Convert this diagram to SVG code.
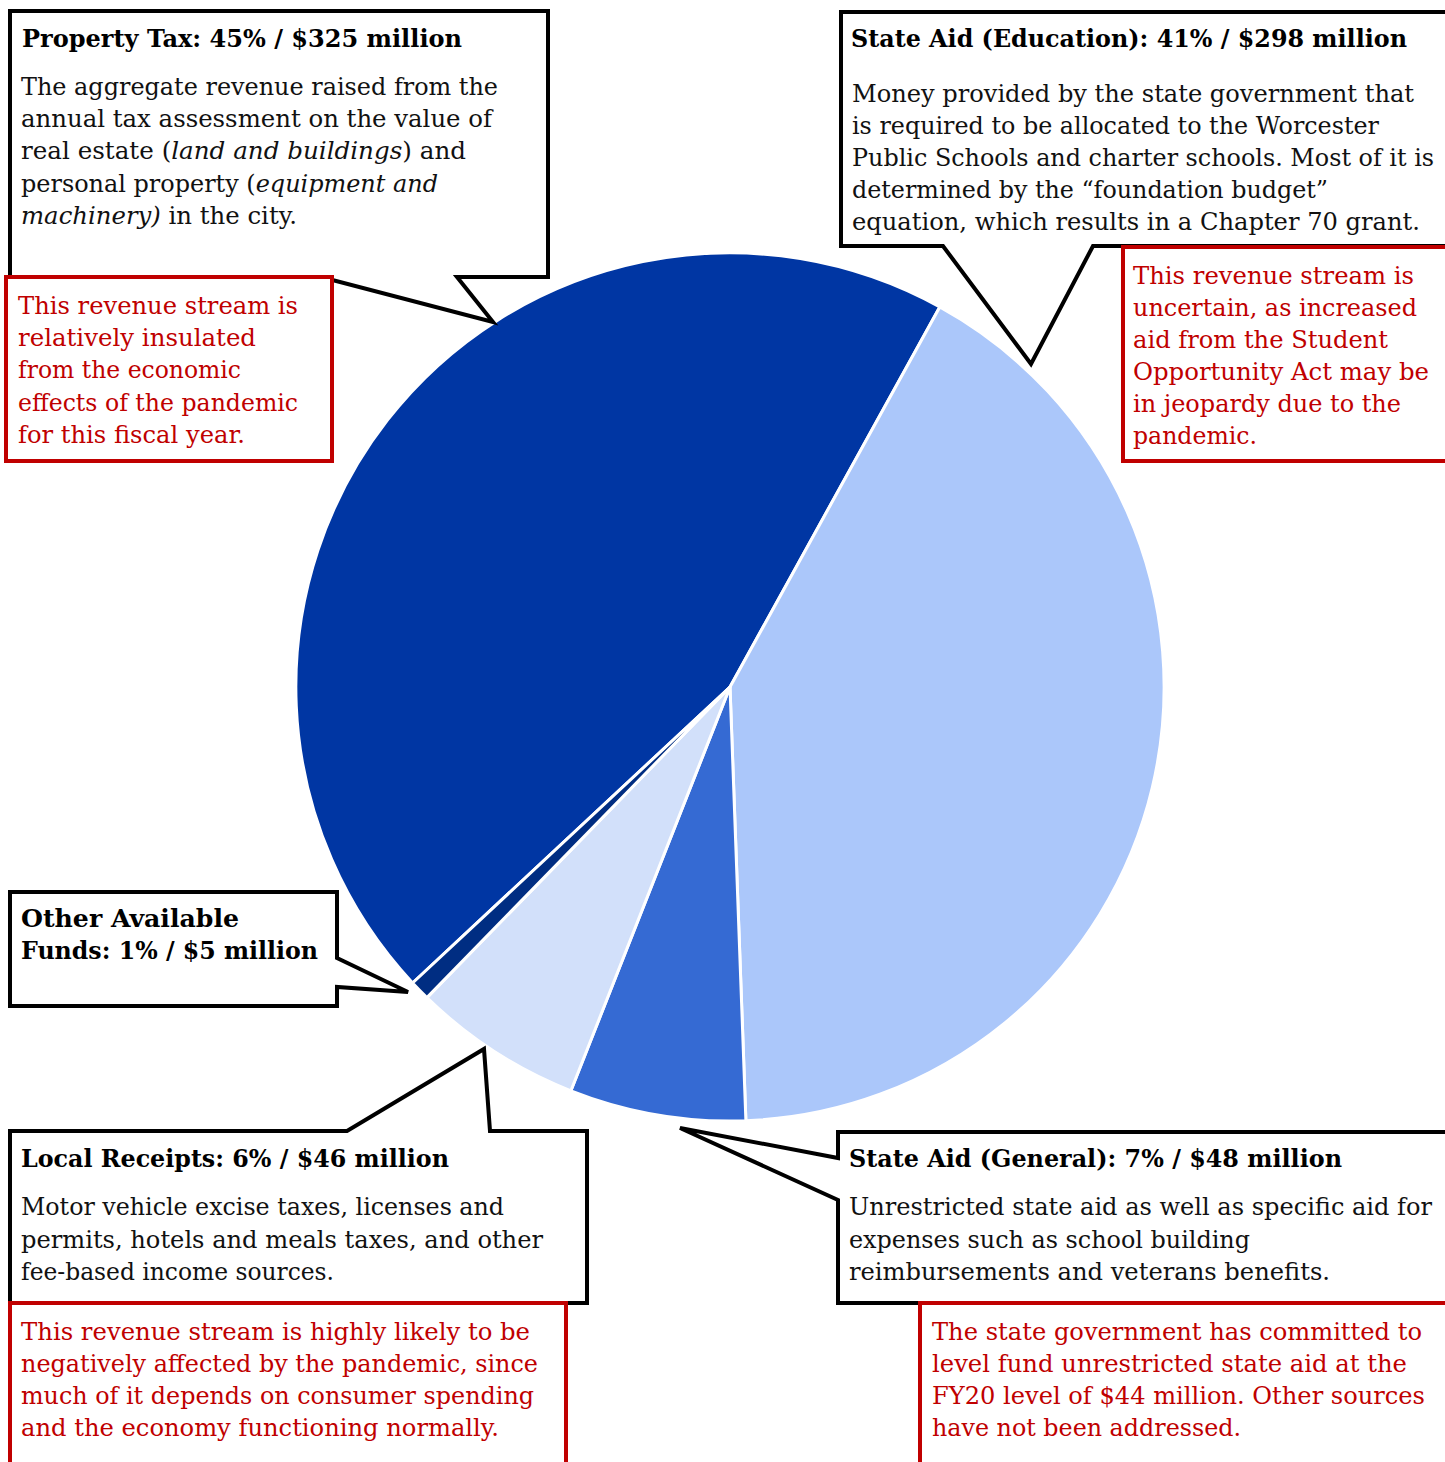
<svg xmlns="http://www.w3.org/2000/svg" width="1445" height="1462" viewBox="0 0 1445 1462">
<style>
.slice{stroke:#fff;stroke-width:3;stroke-linejoin:round}
.callout{fill:#fff;stroke:#000;stroke-width:4;stroke-linejoin:miter}
.note{fill:#fff;stroke:#C00000;stroke-width:4}
.h{font-family:"DejaVu Serif","Liberation Serif",serif;font-weight:bold;font-size:23.5px;fill:#000}
.b{font-family:"DejaVu Serif","Liberation Serif",serif;font-size:24px;fill:#111}
.r{font-family:"DejaVu Serif","Liberation Serif",serif;font-size:24px;fill:#C00000}
.i{font-style:italic}
</style>
<rect width="1445" height="1462" fill="#fff"/>
<g id="pie">
<path id="slice-property" class="slice" fill="#0036A3" d="M730,687 L412.6,983 A434,434 0 0 1 939.8,307 Z"/>
<path id="slice-state-ed" class="slice" fill="#ABC7FA" d="M730,687 L939.8,307 A434,434 0 0 1 745.9,1120.7 Z"/>
<path id="slice-state-gen" class="slice" fill="#356AD3" d="M730,687 L745.9,1120.7 A434,434 0 0 1 570.9,1090.8 Z"/>
<path id="slice-local" class="slice" fill="#D2E0FA" d="M730,687 L570.9,1090.8 A434,434 0 0 1 426.9,997.6 Z"/>
<path id="slice-other" class="slice" fill="#002D82" d="M730,687 L426.9,997.6 A434,434 0 0 1 412.6,983 Z"/>
</g>
<g id="connectors"></g>
<g id="node-property">
<path class="callout" d="M10,11 H548 V277 H457 L493,322 L321,277 H10 Z"/>
<text class="h" x="22" y="47" textLength="440" lengthAdjust="spacingAndGlyphs">Property Tax: 45% / $325 million</text>
<text class="b" x="21" y="95" textLength="477" lengthAdjust="spacingAndGlyphs">The aggregate revenue raised from the</text>
<text class="b" x="21" y="127" textLength="471" lengthAdjust="spacingAndGlyphs">annual tax assessment on the value of</text>
<text class="b" x="21" y="159" textLength="445" lengthAdjust="spacingAndGlyphs">real estate (<tspan class="i">land and buildings</tspan>) and</text>
<text class="b" x="21" y="192" textLength="417" lengthAdjust="spacingAndGlyphs">personal property (<tspan class="i">equipment and</tspan></text>
<text class="b" x="21" y="224" textLength="276" lengthAdjust="spacingAndGlyphs"><tspan class="i">machinery)</tspan> in the city.</text>
</g>
<g id="note-property">
<rect class="note" x="6" y="277" width="326" height="184"/>
<text class="r" x="18" y="314" textLength="280" lengthAdjust="spacingAndGlyphs">This revenue stream is</text>
<text class="r" x="18" y="346" textLength="238" lengthAdjust="spacingAndGlyphs">relatively insulated</text>
<text class="r" x="18" y="378" textLength="223" lengthAdjust="spacingAndGlyphs">from the economic</text>
<text class="r" x="18" y="411" textLength="280" lengthAdjust="spacingAndGlyphs">effects of the pandemic</text>
<text class="r" x="18" y="443" textLength="227" lengthAdjust="spacingAndGlyphs">for this fiscal year.</text>
</g>
<g id="node-state-ed">
<path class="callout" d="M841,12 H1450 V246 H1093 L1031,364 L943,246 H841 Z"/>
<text class="h" x="851" y="47" textLength="556" lengthAdjust="spacingAndGlyphs">State Aid (Education): 41% / $298 million</text>
<text class="b" x="852" y="102" textLength="562" lengthAdjust="spacingAndGlyphs">Money provided by the state government that</text>
<text class="b" x="852" y="134" textLength="527" lengthAdjust="spacingAndGlyphs">is required to be allocated to the Worcester</text>
<text class="b" x="852" y="166" textLength="582" lengthAdjust="spacingAndGlyphs">Public Schools and charter schools. Most of it is</text>
<text class="b" x="852" y="198" textLength="476" lengthAdjust="spacingAndGlyphs">determined by the “foundation budget”</text>
<text class="b" x="852" y="230" textLength="568" lengthAdjust="spacingAndGlyphs">equation, which results in a Chapter 70 grant.</text>
</g>
<g id="note-state-ed">
<rect class="note" x="1123" y="247" width="330" height="214"/>
<text class="r" x="1133" y="284" textLength="281" lengthAdjust="spacingAndGlyphs">This revenue stream is</text>
<text class="r" x="1133" y="316" textLength="284" lengthAdjust="spacingAndGlyphs">uncertain, as increased</text>
<text class="r" x="1133" y="348" textLength="255" lengthAdjust="spacingAndGlyphs">aid from the Student</text>
<text class="r" x="1133" y="380" textLength="296" lengthAdjust="spacingAndGlyphs">Opportunity Act may be</text>
<text class="r" x="1133" y="412" textLength="268" lengthAdjust="spacingAndGlyphs">in jeopardy due to the</text>
<text class="r" x="1133" y="444" textLength="124" lengthAdjust="spacingAndGlyphs">pandemic.</text>
</g>
<g id="node-other">
<path class="callout" d="M10,892 H337 V958 L408,992 L337,987 V1006 H10 Z"/>
<text class="h" x="21" y="927" textLength="218" lengthAdjust="spacingAndGlyphs">Other Available</text>
<text class="h" x="21" y="959" textLength="297" lengthAdjust="spacingAndGlyphs">Funds: 1% / $5 million</text>
</g>
<g id="node-local">
<path class="callout" d="M10,1131 H347 L484,1049 L490,1131 H587 V1303 H10 Z"/>
<text class="h" x="21" y="1167" textLength="428" lengthAdjust="spacingAndGlyphs">Local Receipts: 6% / $46 million</text>
<text class="b" x="21" y="1215" textLength="483" lengthAdjust="spacingAndGlyphs">Motor vehicle excise taxes, licenses and</text>
<text class="b" x="21" y="1248" textLength="522" lengthAdjust="spacingAndGlyphs">permits, hotels and meals taxes, and other</text>
<text class="b" x="21" y="1280" textLength="313" lengthAdjust="spacingAndGlyphs">fee-based income sources.</text>
</g>
<g id="note-local">
<rect class="note" x="10" y="1303" width="556" height="170"/>
<text class="r" x="21" y="1340" textLength="509" lengthAdjust="spacingAndGlyphs">This revenue stream is highly likely to be</text>
<text class="r" x="21" y="1372" textLength="517" lengthAdjust="spacingAndGlyphs">negatively affected by the pandemic, since</text>
<text class="r" x="21" y="1404" textLength="513" lengthAdjust="spacingAndGlyphs">much of it depends on consumer spending</text>
<text class="r" x="21" y="1436" textLength="478" lengthAdjust="spacingAndGlyphs">and the economy functioning normally.</text>
</g>
<g id="node-state-gen">
<path class="callout" d="M838,1132 H1450 V1303 H838 V1200 L680,1128 L838,1158 Z"/>
<text class="h" x="849" y="1167" textLength="493" lengthAdjust="spacingAndGlyphs">State Aid (General): 7% / $48 million</text>
<text class="b" x="849" y="1215" textLength="583" lengthAdjust="spacingAndGlyphs">Unrestricted state aid as well as specific aid for</text>
<text class="b" x="849" y="1248" textLength="401" lengthAdjust="spacingAndGlyphs">expenses such as school building</text>
<text class="b" x="849" y="1280" textLength="481" lengthAdjust="spacingAndGlyphs">reimbursements and veterans benefits.</text>
</g>
<g id="note-state-gen">
<rect class="note" x="920" y="1303" width="533" height="170"/>
<text class="r" x="932" y="1340" textLength="490" lengthAdjust="spacingAndGlyphs">The state government has committed to</text>
<text class="r" x="932" y="1372" textLength="475" lengthAdjust="spacingAndGlyphs">level fund unrestricted state aid at the</text>
<text class="r" x="932" y="1404" textLength="493" lengthAdjust="spacingAndGlyphs">FY20 level of $44 million. Other sources</text>
<text class="r" x="932" y="1436" textLength="309" lengthAdjust="spacingAndGlyphs">have not been addressed.</text>
</g>
</svg>
